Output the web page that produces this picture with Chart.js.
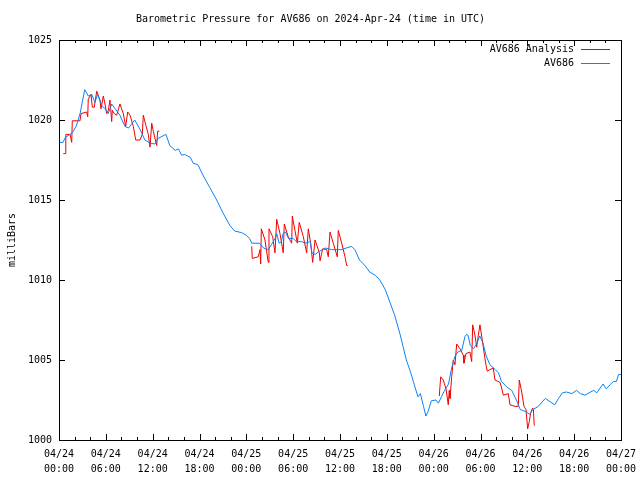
<!DOCTYPE html>
<html>
<head>
<meta charset="utf-8">
<script src="https://cdn.jsdelivr.net/npm/chart.js@4/dist/chart.umd.min.js"></script>
<style>
  html, body { margin: 0; padding: 0; background: #fff; }
  #wrap { width: 640px; height: 480px; }
</style>
</head>
<body>
<div id="wrap"><canvas id="pressureChart"></canvas></div>
<script>
// hours since 04/24 00:00 UTC
var stationHours = [0, 0.5, 0.8, 1.7, 2.2, 2.7, 3.3, 3.75, 4.2, 4.6, 4.95, 5.5, 5.9, 6.3, 6.75, 7.2, 7.8, 8.45, 8.9, 9.7,
  10.4, 11.0, 11.7, 12.3, 12.7, 13.7, 14.2, 14.9, 15.3, 15.7, 16.1, 16.8, 17.2, 17.8, 18.5, 19.3, 20.2, 21.0, 21.9, 22.5,
  23.4, 24.0, 24.4, 24.7, 25.7, 26.2, 26.8, 27.2, 27.7, 27.9, 28.2, 28.5, 28.7, 29.0, 29.4, 30.0, 30.4, 31.1, 31.5, 32.2,
  32.4, 32.8, 33.4, 34.1, 34.9, 35.6, 36.2, 36.8, 37.5, 37.9, 38.5, 39.2, 39.8, 40.5, 41.1, 41.8, 42.4, 43.0, 43.7, 44.1,
  44.5, 45.0, 45.4, 45.8, 46.0, 46.3, 46.7, 47.0, 47.3, 47.7, 48.3, 48.6, 49.0, 49.4, 49.9, 50.3, 50.7, 51.1, 51.6, 52.0,
  52.2, 52.4, 52.7, 53.1, 53.5, 53.9, 54.3, 54.7, 55.2, 55.9, 56.3, 56.7, 57.4, 58.0, 58.6, 59.1, 59.7, 60.3, 60.7, 61.4,
  62.3, 62.9, 63.5, 64.0, 64.5, 65.0, 65.7, 66.3, 66.8, 67.4, 68.1, 68.5, 68.9, 69.7, 70.1, 70.6, 71.0, 71.4, 71.7, 72.0];
var stationPressure = [1018.6, 1018.6, 1018.9, 1019.2, 1019.6, 1020.4, 1021.9, 1021.5, 1021.6, 1021.1, 1021.6, 1020.9, 1020.7, 1020.4, 1021.0, 1020.7, 1020.3, 1019.6, 1019.5, 1020.0,
  1019.4, 1018.75, 1018.55, 1018.5, 1018.85, 1019.1, 1018.4, 1018.1, 1018.2, 1017.8, 1017.85, 1017.67, 1017.3, 1017.2, 1016.5, 1015.8, 1015.0, 1014.2, 1013.4, 1013.06,
  1012.96, 1012.8, 1012.6, 1012.3, 1012.3, 1012.0, 1011.9, 1012.2, 1012.6, 1012.9, 1012.3, 1012.4, 1012.9, 1013.0, 1012.6, 1012.6, 1012.4, 1012.4, 1012.3, 1012.4,
  1011.7, 1011.6, 1011.8, 1012.0, 1011.9, 1011.9, 1011.9, 1012.0, 1012.1, 1011.9, 1011.25, 1010.9, 1010.5, 1010.3, 1010.0, 1009.4, 1008.6, 1007.8, 1006.6, 1005.8,
  1005.0, 1004.3, 1003.65, 1003.0, 1002.7, 1002.9, 1002.1, 1001.5, 1001.8, 1002.45, 1002.5, 1002.3, 1002.7, 1003.1, 1003.5, 1004.5, 1005.2, 1005.5, 1005.6, 1006.45,
  1006.6, 1006.55, 1005.9, 1005.7, 1006.0, 1006.5, 1006.1, 1005.3, 1004.7, 1004.4, 1004.2, 1003.65, 1003.3, 1003.1, 1002.5, 1001.9, 1001.8, 1001.6, 1001.9, 1002.1,
  1002.6, 1002.4, 1002.2, 1002.6, 1002.95, 1003.0, 1002.9, 1003.1, 1002.9, 1002.8, 1003.0, 1003.1, 1002.95, 1003.5, 1003.2, 1003.45, 1003.65, 1003.65, 1004.1, 1004.1];

// analysis runs, null marks the gap between runs
var analysisHours = [0.55, 0.86, 0.87, 1.41, 1.63, 1.70, 2.69, 2.82, 3.55, 3.68, 3.75, 4.10, 4.27, 4.52, 4.83, 5.25, 5.38, 5.68, 5.89, 6.11,
  6.32, 6.53, 6.75, 6.83, 7.08, 7.39, 7.81, 8.24, 8.54, 8.80, 9.10, 9.52, 9.83, 10.38, 10.67, 10.80, 11.11, 11.44, 11.66, 11.88,
  12.08, 12.52, 12.64, 12.85,
  18,
  24.69, 24.76, 25.53, 25.75, 25.84, 25.92, 26.39, 26.81, 26.90, 27.38, 27.67, 27.89, 28.31, 28.73, 28.86, 29.37, 29.81, 29.89, 30.23, 30.53,
  30.78, 31.30, 31.73, 31.94, 32.24, 32.50, 32.80, 33.22, 33.35, 33.44, 33.78, 34.29, 34.50, 34.72, 35.14, 35.65, 35.78, 36.22, 36.64, 36.86, 36.99,
  42,
  48.72, 48.90, 49.23, 49.58, 49.87, 50.00, 50.09, 50.31, 50.51, 50.73, 50.95, 51.37, 51.79, 51.88, 52.14, 52.65, 52.87, 53.00, 53.29, 53.51,
  53.72, 53.93, 54.15, 54.36, 54.57, 54.70, 54.87, 55.21, 55.64, 55.85, 56.50, 56.71, 56.92, 57.56, 57.78, 58.42, 58.84, 58.97, 59.28, 59.57,
  59.83, 60.04, 60.25, 60.43, 60.68, 60.78, 60.89];
var analysisPressure = [1017.9, 1017.9, 1019.1, 1019.1, 1018.6, 1019.95, 1019.95, 1020.4, 1020.5, 1020.2, 1021.3, 1021.6, 1020.8, 1020.8, 1021.8, 1021.25, 1020.7, 1021.5, 1021.0, 1020.4,
  1020.6, 1021.25, 1019.9, 1020.6, 1020.4, 1020.3, 1021.0, 1020.4, 1019.6, 1020.5, 1020.3, 1019.6, 1018.75, 1018.75, 1019.1, 1020.3, 1019.7, 1019.1, 1018.3, 1019.8,
  1019.3, 1018.4, 1019.3, 1019.3,
  null,
  1012.1, 1011.35, 1011.45, 1011.9, 1011.0, 1013.2, 1012.5, 1011.1, 1013.2, 1012.7, 1011.7, 1013.8, 1012.9, 1011.7, 1013.5, 1012.7, 1012.3, 1014.0, 1013.1, 1012.3,
  1013.6, 1012.7, 1011.7, 1013.2, 1012.3, 1011.1, 1012.5, 1011.9, 1011.7, 1011.2, 1011.95, 1011.9, 1011.45, 1013.0, 1012.3, 1011.45, 1013.1, 1012.3, 1011.45, 1010.9, 1010.9,
  null,
  1002.75, 1003.95, 1003.75, 1003.2, 1002.2, 1003.1, 1002.6, 1003.95, 1005.0, 1004.7, 1006.0, 1005.7, 1005.3, 1004.8, 1005.4, 1005.5, 1004.9, 1007.2, 1006.55, 1005.8,
  1006.55, 1007.2, 1006.5, 1005.8, 1005.1, 1004.7, 1004.3, 1004.4, 1004.5, 1003.75, 1003.6, 1003.25, 1002.8, 1002.9, 1002.2, 1002.1, 1002.1, 1003.75, 1003.0, 1002.1,
  1001.9, 1000.7, 1001.15, 1001.7, 1002.0, 1001.9, 1000.9];

var dayLabels = ["04/24", "04/25", "04/26", "04/27"];
var yTicks = [1000, 1005, 1010, 1015, 1020, 1025];

var monoFont = "'DejaVu Sans Mono', 'Liberation Mono', monospace";

function toPoints(xs, ys) {
  return xs.map(function (x, i) { return { x: x, y: ys[i] }; });
}

// gnuplot-like frame, inward ticks and right-aligned key
var gnuplotFrame = {
  id: 'gnuplotFrame',
  afterDraw: function (chart) {
    var ctx = chart.ctx;
    var a = chart.chartArea;
    var xs = chart.scales.x, ys = chart.scales.y;
    ctx.save();
    ctx.strokeStyle = '#000';
    ctx.lineWidth = 1;
    ctx.strokeRect(Math.round(a.left) + 0.5, Math.round(a.top) + 0.5, Math.round(a.right - a.left), Math.round(a.bottom - a.top));
    ctx.beginPath();
    for (var h = 0; h <= 72; h += 2) {
      var px = Math.round(xs.getPixelForValue(h)) + 0.5;
      var len = (h % 6 === 0) ? 6 : 3;
      ctx.moveTo(px, a.bottom); ctx.lineTo(px, a.bottom - len);
      ctx.moveTo(px, a.top); ctx.lineTo(px, a.top + len);
    }
    yTicks.forEach(function (v) {
      var py = Math.round(ys.getPixelForValue(v)) + 0.5;
      ctx.moveTo(a.left, py); ctx.lineTo(a.left + 6, py);
      ctx.moveTo(a.right, py); ctx.lineTo(a.right - 6, py);
    });
    ctx.stroke();

    // key
    ctx.font = '10px ' + monoFont;
    ctx.textAlign = 'right';
    ctx.textBaseline = 'middle';
    var order = [1, 0];
    order.forEach(function (di, row) {
      var ds = chart.data.datasets[di];
      var y = 49.5 + row * 14;
      ctx.fillStyle = '#000';
      ctx.fillText(ds.label, 574, y);
      ctx.beginPath();
      ctx.strokeStyle = ds.borderColor;
      ctx.moveTo(581, y); ctx.lineTo(610, y);
      ctx.stroke();
    });
    ctx.restore();
  }
};

var ctx = document.getElementById('pressureChart').getContext('2d');
var chart = new Chart(ctx, {
  type: 'line',
  data: {
    datasets: [
      {
        label: 'AV686',
        data: toPoints(stationHours, stationPressure),
        borderColor: '#0a82f5',
        borderWidth: 1,
        pointRadius: 0,
        tension: 0,
        order: 1
      },
      {
        label: 'AV686 Analysis',
        data: toPoints(analysisHours, analysisPressure),
        borderColor: '#f00000',
        borderWidth: 1,
        pointRadius: 0,
        tension: 0,
        spanGaps: false,
        order: 2
      }
    ]
  },
  options: {
    responsive: true,
    maintainAspectRatio: false,
    animation: false,
    layout: { padding: { left: 0, right: 19, top: 0, bottom: 0 } },
    plugins: {
      legend: { display: false },
      tooltip: { enabled: false },
      title: {
        display: true,
        text: 'Barometric Pressure for AV686 on 2024-Apr-24 (time in UTC)',
        color: '#000',
        font: { family: monoFont, size: 10, weight: 'normal', lineHeight: 1.2 },
        padding: { top: 13, bottom: 15 }
      }
    },
    scales: {
      x: {
        type: 'linear',
        min: 0,
        max: 72,
        grid: { display: false },
        border: { display: false },
        afterFit: function (scale) { scale.height = 40; },
        ticks: {
          stepSize: 2,
          autoSkip: false,
          maxRotation: 0,
          padding: -1,
          color: '#000',
          font: { family: monoFont, size: 10, lineHeight: 1.5 },
          callback: function (v) {
            if (v % 6 !== 0) return '';
            var hh = v % 24;
            return [dayLabels[Math.floor(v / 24)], (hh < 10 ? '0' : '') + hh + ':00'];
          }
        }
      },
      y: {
        min: 1000,
        max: 1025,
        grid: { display: false },
        border: { display: false },
        afterFit: function (scale) { scale.width = 59; },
        ticks: {
          stepSize: 5,
          padding: -1,
          color: '#000',
          font: { family: monoFont, size: 10 },
          callback: function (v) { return String(v); }
        },
        title: {
          display: true,
          text: 'milliBars',
          color: '#000',
          font: { family: monoFont, size: 10, lineHeight: 1.2 },
          padding: { top: 6, bottom: 0 }
        }
      }
    }
  },
  plugins: [gnuplotFrame]
});
</script>
</body>
</html>
